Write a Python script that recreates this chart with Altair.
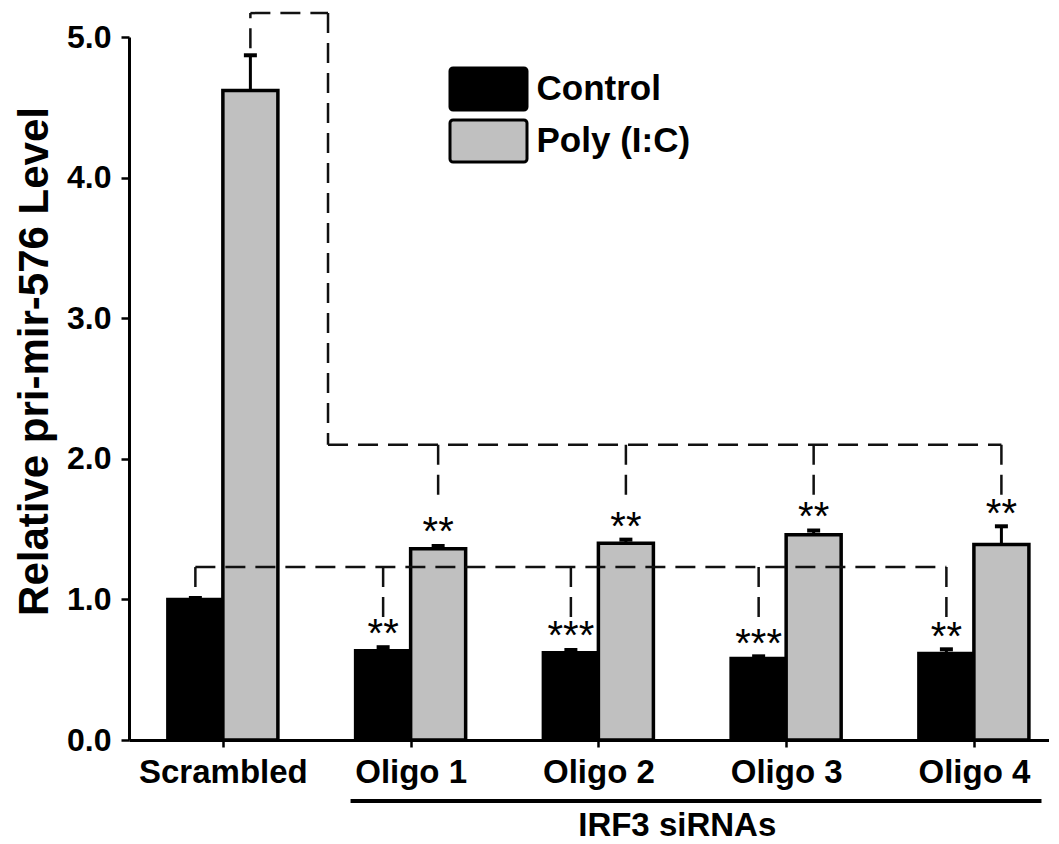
import json
import altair as alt
import pandas as pd

# ---------------- data ----------------
categories = ["Scrambled", "Oligo 1", "Oligo 2", "Oligo 3", "Oligo 4"]
series = ["Control", "Poly (I:C)"]
control_mean = [1.00, 0.635, 0.62, 0.58, 0.615]
control_err = [0.01, 0.025, 0.02, 0.015, 0.03]
poly_mean = [4.62, 1.36, 1.40, 1.46, 1.39]
poly_err = [0.25, 0.02, 0.025, 0.03, 0.13]

# significance annotations (stars and the y of their baselines)
control_stars = ["", "**", "***", "***", "**"]
control_star_y = [0, 0.665, 0.650, 0.593, 0.643]
poly_stars = ["", "**", "**", "**", "**"]
poly_star_y = [0, 1.39, 1.425, 1.496, 1.518]

# comparison brackets (levels in data units)
ctrl_bracket_level = 1.23
ctrl_bracket_ref_bottom = 1.088
ctrl_bracket_drop_bottom = 0.875
poly_bracket_top = 5.17
poly_bracket_ref_bottom = 4.92
poly_bracket_level = 2.10
poly_bracket_drop_bottom = 1.743
poly_bracket_joint = 0.56

group_label = "IRF3 siRNAs"
group_span = [0.68, 4.36]
group_line_y = -0.434
group_text_y = -0.68

# ---------------- tables ----------------
W = 0.293  # bar width in category units
bar_rows, err_rows = [], []
for i, c in enumerate(categories):
    bar_rows.append(dict(cat=c, series=series[0], x=i - W, x2=i, y=control_mean[i], y2=0))
    bar_rows.append(dict(cat=c, series=series[1], x=i, x2=i + W, y=poly_mean[i], y2=0))
    err_rows.append(dict(x=i - W / 2, y=control_mean[i], y2=control_mean[i] + control_err[i]))
    err_rows.append(dict(x=i + W / 2, y=poly_mean[i], y2=poly_mean[i] + poly_err[i]))
bar_df = pd.DataFrame(bar_rows)
err_df = pd.DataFrame(err_rows)

n = len(categories)
cc = [i - W / 2 for i in range(n)]
pc = [i + W / 2 for i in range(n)]
seg = []
# control bracket
seg.append(dict(x=cc[0], x2=cc[0], y=ctrl_bracket_ref_bottom, y2=ctrl_bracket_level))
seg.append(dict(x=cc[0], x2=cc[-1], y=ctrl_bracket_level, y2=ctrl_bracket_level))
for i in range(1, n):
    seg.append(dict(x=cc[i], x2=cc[i], y=ctrl_bracket_level, y2=ctrl_bracket_drop_bottom))
# poly bracket
seg.append(dict(x=pc[0], x2=pc[0], y=poly_bracket_ref_bottom, y2=poly_bracket_top))
seg.append(dict(x=pc[0], x2=poly_bracket_joint, y=poly_bracket_top, y2=poly_bracket_top))
seg.append(dict(x=poly_bracket_joint, x2=poly_bracket_joint, y=poly_bracket_top, y2=poly_bracket_level))
seg.append(dict(x=poly_bracket_joint, x2=pc[-1], y=poly_bracket_level, y2=poly_bracket_level))
for i in range(1, n):
    seg.append(dict(x=pc[i], x2=pc[i], y=poly_bracket_level, y2=poly_bracket_drop_bottom))
seg_df = pd.DataFrame(seg)

star_rows = []
for i in range(n):
    if control_stars[i]:
        star_rows.append(dict(x=cc[i], y=control_star_y[i], t=control_stars[i]))
    if poly_stars[i]:
        star_rows.append(dict(x=pc[i], y=poly_star_y[i], t=poly_stars[i]))
star_df = pd.DataFrame(star_rows)

group_df = pd.DataFrame([dict(x=group_span[0], x2=group_span[1], y=group_line_y,
                              xm=(group_span[0] + group_span[1]) / 2 - 0.1, yt=group_text_y, t=group_label)])

# ---------------- scales / axes ----------------
FONT = "Liberation Sans"
xscale = alt.Scale(domain=[-0.5, 4.4], nice=False, zero=False)
yscale = alt.Scale(domain=[0, 5], nice=False, zero=True)

label_expr = json.dumps(categories) + "[round(datum.value)]"
xaxis = alt.Axis(values=list(range(n)), labelExpr=label_expr, title=None, grid=False,
                 labelFont=FONT, labelFontSize=33, labelFontWeight="bold", labelColor="black",
                 labelBaseline="alphabetic", labelPadding=35, tickSize=7, tickWidth=2.5,
                 tickColor="black", domainColor="black", domainWidth=3, labelFlush=False,
                 labelOverlap=False)
yaxis = alt.Axis(values=[0, 1, 2, 3, 4, 5], format=".1f", grid=False,
                 title="Relative pri-mir-576 Level", titleFont=FONT, titleFontSize=42,
                 titleFontWeight="bold", titleColor="black", titleAngle=270, titleX=-82, titleY=324,
                 titleAlign="center", titleBaseline="alphabetic",
                 labelFont=FONT, labelFontSize=32, labelFontWeight="bold", labelColor="black",
                 labelPadding=10, tickSize=8, tickWidth=2.5, tickColor="black",
                 domainColor="black", domainWidth=3)


def X(f):
    return alt.X(f, type="quantitative", scale=xscale, axis=xaxis)


def Y(f):
    return alt.Y(f, type="quantitative", scale=yscale, axis=yaxis)


# rounded rectangle symbol, 77 x 42 px when drawn at size 38.5^2
legend_path = ("M-1.84,-1.09 L1.84,-1.09 A0.16,0.16 0 0 1 2,-0.93 L2,0.93 "
               "A0.16,0.16 0 0 1 1.84,1.09 L-1.84,1.09 A0.16,0.16 0 0 1 -2,0.93 "
               "L-2,-0.93 A0.16,0.16 0 0 1 -1.84,-1.09 Z")

bars = alt.Chart(bar_df).mark_rect(stroke="black", strokeWidth=3.5, opacity=1).encode(
    x=X("x"), x2="x2", y=Y("y"), y2="y2",
    color=alt.Color("series:N", scale=alt.Scale(domain=series, range=["#000000", "#c0c0c0"]),
                    legend=alt.Legend(title=None, orient="none", legendX=338.5, legendY=31,
                                      padding=0, symbolType=legend_path, symbolSize=1482,
                                      symbolStrokeColor="black", symbolStrokeWidth=3,
                                      symbolOpacity=1,
                                      labelFont=FONT, labelFontSize=35, labelFontWeight="bold",
                                      labelColor="black", labelOffset=27, labelLimit=400,
                                      rowPadding=-2)),
)

err_line = alt.Chart(err_df).mark_rule(color="black", strokeWidth=3, opacity=1).encode(
    x=X("x"), y=Y("y"), y2="y2")
err_cap = alt.Chart(err_df).mark_tick(color="black", orient="horizontal", size=13,
                                      thickness=4, opacity=1).encode(x=X("x"), y=Y("y2"))

dashes = alt.Chart(seg_df).mark_rule(color="#111111", strokeWidth=2.5, strokeDash=[20, 10]).encode(
    x=X("x"), x2="x2", y=Y("y"), y2="y2")

stars = alt.Chart(star_df).mark_text(font=FONT, fontSize=40, color="black", align="center",
                                     baseline="alphabetic").encode(x=X("x"), y=Y("y"), text="t:N")

group_line = alt.Chart(group_df).mark_rule(color="black", strokeWidth=4).encode(
    x=X("x"), x2="x2", y=Y("y"))
group_text = alt.Chart(group_df).mark_text(font=FONT, fontSize=33, fontWeight="bold", color="black",
                                           align="center", baseline="alphabetic").encode(
    x=X("xm"), y=Y("yt"), text="t:N")

chart = alt.layer(bars, err_line, err_cap, dashes, stars, group_line, group_text).properties(
    width=920, height=703,
    padding={"left": 121, "top": 29, "right": 0, "bottom": 104},
    autosize=alt.AutoSizeParams(type="none"),
).configure_view(stroke=None)

chart.save("out.html", embed_options={"renderer": "svg", "actions": False})
